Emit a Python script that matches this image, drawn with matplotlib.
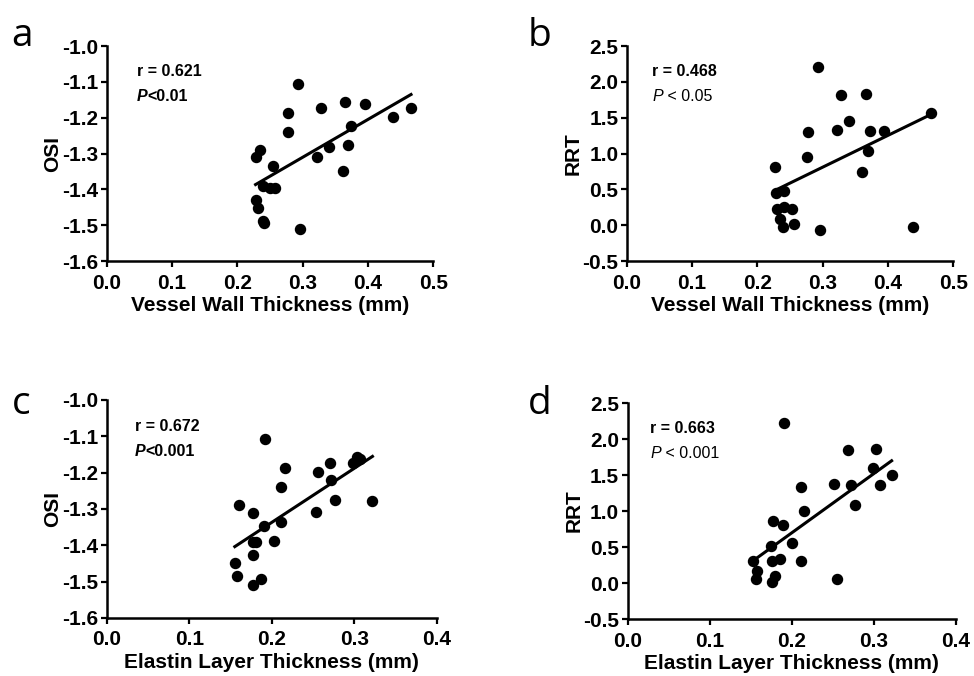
#! /usr/bin/python
# -*- coding: utf-8 -*-

import numpy as np
import matplotlib
matplotlib.use('Agg')
import matplotlib.pyplot as plt
from matplotlib.ticker import FormatStrFormatter

plt.rcParams['font.family'] = ['Liberation Sans', 'DejaVu Sans']
plt.rcParams['axes.unicode_minus'] = False

# Panel a: vessel wall thickness vs OSI
wall_a = [0.293, 0.277, 0.278, 0.328, 0.365, 0.395, 0.466, 0.439, 0.374, 0.370,
          0.341, 0.322, 0.362, 0.235, 0.228, 0.254, 0.240, 0.250, 0.258, 0.229,
          0.231, 0.240, 0.241, 0.296]
osi_a = [-1.107, -1.188, -1.239, -1.174, -1.157, -1.163, -1.174, -1.199, -1.223, -1.275,
         -1.281, -1.310, -1.349, -1.289, -1.311, -1.336, -1.391, -1.396, -1.396, -1.430,
         -1.452, -1.489, -1.495, -1.512]

# Panel b: vessel wall thickness vs RRT
wall_b = [0.293, 0.328, 0.366, 0.466, 0.340, 0.322, 0.278, 0.373, 0.394, 0.370,
          0.276, 0.361, 0.227, 0.229, 0.241, 0.230, 0.241, 0.253, 0.235, 0.240,
          0.256, 0.296, 0.439]
rrt_b = [2.21, 1.82, 1.83, 1.57, 1.46, 1.33, 1.30, 1.31, 1.32, 1.03,
         0.95, 0.74, 0.81, 0.45, 0.47, 0.22, 0.26, 0.22, 0.09, -0.03,
         0.02, -0.07, -0.02]

# Panel c: elastin layer thickness vs OSI
elastin_c = [0.192, 0.216, 0.211, 0.256, 0.270, 0.272, 0.299, 0.303, 0.307, 0.322,
             0.277, 0.253, 0.160, 0.177, 0.211, 0.190, 0.177, 0.181, 0.202, 0.177,
             0.155, 0.158, 0.187, 0.177]
osi_c = [-1.108, -1.188, -1.239, -1.199, -1.174, -1.221, -1.173, -1.156, -1.162, -1.279,
         -1.274, -1.307, -1.288, -1.310, -1.335, -1.346, -1.392, -1.392, -1.388, -1.427,
         -1.449, -1.485, -1.492, -1.508]

# Panel d: elastin layer thickness vs RRT
elastin_d = [0.191, 0.269, 0.303, 0.299, 0.322, 0.308, 0.272, 0.252, 0.211, 0.277,
             0.215, 0.177, 0.189, 0.175, 0.201, 0.153, 0.176, 0.186, 0.211, 0.158,
             0.157, 0.180, 0.176, 0.255]
rrt_d = [2.22, 1.85, 1.86, 1.60, 1.50, 1.36, 1.36, 1.37, 1.34, 1.08,
         1.00, 0.86, 0.80, 0.52, 0.55, 0.30, 0.31, 0.33, 0.30, 0.17,
         0.05, 0.10, 0.01, 0.06]

xlabels = ['Vessel Wall Thickness (mm)', 'Vessel Wall Thickness (mm)',
           'Elastin Layer Thickness (mm)', 'Elastin Layer Thickness (mm)']
ylabels = ['OSI', 'RRT', 'OSI', 'RRT']
r_texts = ['r = 0.621', 'r = 0.468', 'r = 0.672', 'r = 0.663']
p_values = ['0.01', '0.05', '0.001', '0.001']
p_bold = [True, False, True, False]
letters = ['a', 'b', 'c', 'd']

fig = plt.figure(figsize=(9.74, 6.76), dpi=100)

# axes rectangles in figure fractions
rects = [[0.1095, 0.6139, 0.3353, 0.318],
         [0.6434, 0.6139, 0.3353, 0.318],
         [0.1099, 0.0858, 0.3385, 0.3225],
         [0.6443, 0.0843, 0.3368, 0.3195]]
letter_pos = [(0.012, 0.975), (0.542, 0.975), (0.012, 0.43), (0.542, 0.43)]
text_x = [0.093, 0.078, 0.085, 0.069]

panels = [(wall_a, osi_a), (wall_b, rrt_b), (elastin_c, osi_c), (elastin_d, rrt_d)]

for i, (xs, ys) in enumerate(panels):
    ax = fig.add_axes(rects[i])
    xs = np.array(xs)
    ys = np.array(ys)
    ax.scatter(xs, ys, s=52, color='black', zorder=3, clip_on=False)

    # linear regression line over the data range
    slope, inter = np.polyfit(xs, ys, 1)
    xl = np.array([xs.min(), xs.max()])
    ax.plot(xl, slope * xl + inter, color='black', linewidth=2.2)

    if i < 2:
        ax.set_xlim(0, 0.5)
        ax.set_xticks(np.arange(0, 0.51, 0.1))
    else:
        ax.set_xlim(0, 0.4)
        ax.set_xticks(np.arange(0, 0.41, 0.1))
    if ylabels[i] == 'OSI':
        ax.set_ylim(-1.6, -1.0)
        ax.set_yticks(np.arange(-1.6, -0.99, 0.1))
    else:
        ax.set_ylim(-0.5, 2.5)
        ax.set_yticks(np.arange(-0.5, 2.51, 0.5))
    ax.xaxis.set_major_formatter(FormatStrFormatter('%.1f'))
    ax.yaxis.set_major_formatter(FormatStrFormatter('%.1f'))

    for side in ['top', 'right']:
        ax.spines[side].set_visible(False)
    for side in ['left', 'bottom']:
        ax.spines[side].set_linewidth(1.8)
    ax.tick_params(direction='out', length=4.5, width=1.6, labelsize=15)
    ax.tick_params(axis='y', pad=1.5)
    ax.tick_params(axis='x', pad=4.5)
    for lab in ax.get_xticklabels() + ax.get_yticklabels():
        lab.set_fontweight('bold')

    ax.set_xlabel(xlabels[i], fontsize=15, fontweight='bold', labelpad=2.5)
    ax.set_ylabel(ylabels[i], fontsize=15, fontweight='bold', labelpad=0)

    w = 'bold' if p_bold[i] else 'normal'
    ax.text(text_x[i], 0.88, r_texts[i], transform=ax.transAxes, fontsize=11.5,
            fontweight='bold', va='center', ha='left')
    sep = '<' if p_bold[i] else ' < '
    pt = ax.text(text_x[i], 0.765, 'P', transform=ax.transAxes, fontsize=11.5,
                 fontweight=w, fontstyle='italic', va='center', ha='left')
    ax.annotate(sep + p_values[i], xycoords=pt, xy=(1, 0.5), fontsize=11.5,
                fontweight=w, va='center', ha='left')

    fig.text(letter_pos[i][0], letter_pos[i][1], letters[i], fontsize=28,
             va='top', ha='left', family=['Open Sans', 'DejaVu Sans'])

fig.savefig('out.png', dpi=100)
